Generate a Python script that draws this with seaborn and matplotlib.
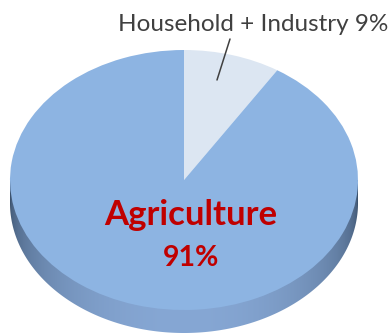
import numpy as np
import matplotlib
matplotlib.use("Agg")
import matplotlib.pyplot as plt
import seaborn as sns
from matplotlib.patches import Polygon
from matplotlib.colors import to_rgb

# ---- data ----
categories = ["Household + Industry", "Agriculture"]
shares = [9, 91]
label_texts = ["Household + Industry 9%", "Agriculture", "91%"]
slice_colors = ["#DCE6F2", "#8DB4E2"]

sns.set_theme(style="white")
plt.rcParams["font.family"] = ["Lato", "DejaVu Sans"]

W, H = 392, 335
fig = plt.figure(figsize=(W / 100, H / 100), dpi=100)
ax = fig.add_axes([0, 0, 1, 1])

# geometry in pixels (from top-left)
cx, cy = 184, 180
rx, ry = 174, 130
depth = 23
d = depth / ry

# side of the "3D" pie (cylinder wall)
t = np.linspace(np.pi, 2 * np.pi, 300)
pts = [(-1, 0)] + list(zip(np.cos(t), np.sin(t) - d)) + [(1, 0)]
wall = Polygon(pts, closed=True, facecolor="none", edgecolor="none")
ax.add_patch(wall)
xs = np.linspace(-1, 1, 400)
shade = np.clip(1 - xs ** 2, 0, 1) ** 0.4
dark = np.array(to_rgb("#3A506B"))
light = np.array(to_rgb("#86A7D4"))
grad = dark[None, :] + (light - dark)[None, :] * shade[:, None]
img = np.repeat(grad[None, :, :], 10, axis=0)
im = ax.imshow(img, extent=[-1, 1, -1 - d, 0], aspect="auto", zorder=0.5,
               interpolation="bilinear")
im.set_clip_path(wall)

# top face
wedges, _ = ax.pie(shares, colors=slice_colors, startangle=90, counterclock=False,
                   radius=1, center=(0, 0),
                   wedgeprops=dict(edgecolor="none", linewidth=0), frame=False)

ax.set_aspect("auto")
ax.set_xlim(-cx / rx, (W - cx) / rx)
ax.set_ylim(-(H - cy) / ry, cy / ry)
ax.axis("off")

def fx(px):
    return px / W

def fy(py):
    return 1 - py / H

fig.text(fx(388), fy(31), label_texts[0], ha="right", va="baseline",
         fontsize=17.5, color="#404040")
fig.add_artist(plt.Line2D([fx(230), fx(217)], [fy(39), fy(80)],
                          color="#404040", linewidth=1.1))
fig.text(fx(191), fy(225), label_texts[1], ha="center", va="baseline",
         fontsize=25, fontweight="bold", color="#C00000")
fig.text(fx(191), fy(266), label_texts[2], ha="center", va="baseline",
         fontsize=20.5, fontweight="bold", color="#C00000")

fig.savefig("out.png", dpi=100)
